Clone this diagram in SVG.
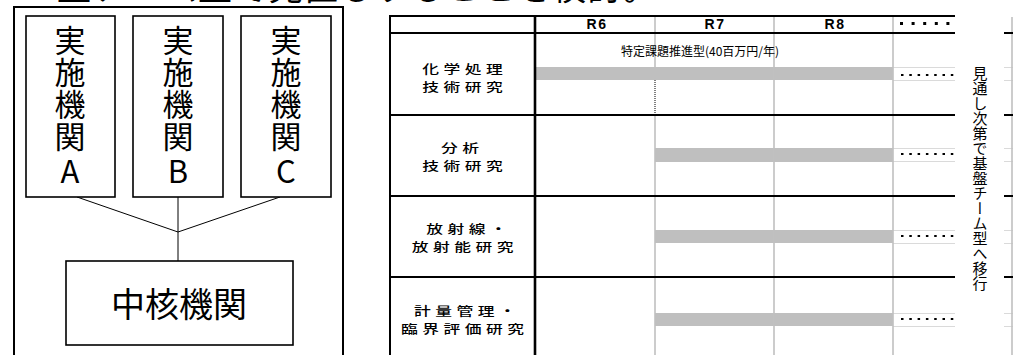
<svg xmlns="http://www.w3.org/2000/svg" width="1020" height="355" viewBox="0 0 1020 355">
<style>
.jp{font-family:"Noto Sans CJK JP","Noto Sans",sans-serif;fill:#000}
.box{fill:#fff;stroke:#000;stroke-width:1.6}
.vt{font-size:31px;writing-mode:vertical-rl;letter-spacing:1px}
.abc{font-size:31px;text-anchor:middle}
.lbl{font-size:12px;text-anchor:middle;letter-spacing:3.2px;font-weight:500}
.hdr{font-family:"Liberation Sans",Arial,sans-serif;font-weight:bold;font-size:14px;text-anchor:middle;letter-spacing:1.5px}
.blk{stroke:#000;stroke-width:2;fill:none}
.gry{stroke:#c0c0c0;stroke-width:1.6;fill:none}
.lgt{stroke:#dadada;stroke-width:1;fill:none}
.bar{fill:#bfbfbf}
.dot{stroke:#000;stroke-width:2;stroke-dasharray:2.5 5.8;fill:none}
</style>

<text class="jp" x="57" y="0" font-size="34" textLength="600" lengthAdjust="spacing">盤チーム型で見直しすることを検討。</text>

<g id="frame">
<rect x="14" y="7" width="329" height="360" fill="none" stroke="#000" stroke-width="2"/>
</g>

<g id="connectors">
<path d="M77 197 L178 232 L280 197 M178 197 L178 261" stroke="#000" stroke-width="1" fill="none"/>
</g>

<g id="nodeA">
<rect class="box" x="26" y="16" width="89" height="181"/>
<text class="jp vt" x="70" y="25">実施機関</text>
<text class="jp abc" x="70" y="183">A</text>
</g>
<g id="nodeB">
<rect class="box" x="133" y="16" width="90" height="181"/>
<text class="jp vt" x="178" y="25">実施機関</text>
<text class="jp abc" x="178" y="183">B</text>
</g>
<g id="nodeC">
<rect class="box" x="241" y="16" width="90" height="181"/>
<text class="jp vt" x="286" y="25">実施機関</text>
<text class="jp abc" x="286" y="183">C</text>
</g>
<g id="nodeCore">
<rect class="box" x="66" y="261" width="227" height="84"/>
<text class="jp" x="179" y="317" font-size="34" text-anchor="middle">中核機関</text>
</g>

<g id="table">
<!-- bars -->
<rect class="bar" x="536" y="67" width="357" height="13"/>
<rect class="bar" x="655" y="148" width="238" height="14"/>
<rect class="bar" x="655" y="230" width="238" height="13"/>
<rect class="bar" x="655" y="313" width="238" height="13"/>
<!-- light lines in last column -->
<path class="lgt" d="M893 67.5H955M893 80.5H955M893 148.5H955M893 161.5H955M893 230.5H955M893 243.5H955M893 313.5H955M893 326.5H955"/>
<path class="lgt" d="M1004 67.5H1013M1004 80.5H1013M1004 148.5H1013M1004 161.5H1013M1004 230.5H1013M1004 243.5H1013M1004 313.5H1013M1004 326.5H1013"/>
<!-- gray verticals -->
<path class="gry" d="M655 16V67M655 115V355M774 16V355M893 16V355M1012 17V355"/>
<path d="M655 80V115" stroke="#000" stroke-width="1" stroke-dasharray="1 1" fill="none"/>
<!-- black lines -->
<path class="blk" d="M390 16H955M390 33H955M390 115H955M390 196H955M390 277H955"/>
<path class="blk" d="M1004 33H1013M1004 115H1013M1004 196H1013M1004 277H1013"/>
<path class="blk" d="M390 15V355"/>
<path d="M535 15V355" stroke="#000" stroke-width="2.6" fill="none"/>
<!-- dotted -->
<path d="M900 23.5H955" stroke="#000" stroke-width="3" stroke-dasharray="3 8.6" fill="none"/>
<path class="dot" d="M901 75H955M901 154H955M901 236H955M901 319H955"/>
<!-- headers -->
<text class="hdr" x="597" y="29">R6</text>
<text class="hdr" x="715" y="29">R7</text>
<text class="hdr" x="835" y="29">R8</text>
<text class="jp" x="700" y="56" font-size="12" text-anchor="middle">特定課題推進型(40百万円/年)</text>
<!-- row labels -->
<g transform="scale(1.4,1)">
<text class="jp lbl" x="332" y="74.5">化学処理</text>
<text class="jp lbl" x="332" y="92">技術研究</text>
<text class="jp lbl" x="330.2" y="153.5">分析</text>
<text class="jp lbl" x="332" y="171">技術研究</text>
<text class="jp lbl" x="334.8" y="234.5">放射線・</text>
<text class="jp lbl" x="332" y="252">放射能研究</text>
<text class="jp lbl" x="333.7" y="316.5">計量管理・</text>
<text class="jp lbl" x="332" y="334">臨界評価研究</text>
</g>
<!-- vertical note -->
<text class="jp" x="980" y="66" font-size="15" style="writing-mode:vertical-rl;letter-spacing:0px">見通し次第で基盤チーム型へ移行</text>
</g>
</svg>
